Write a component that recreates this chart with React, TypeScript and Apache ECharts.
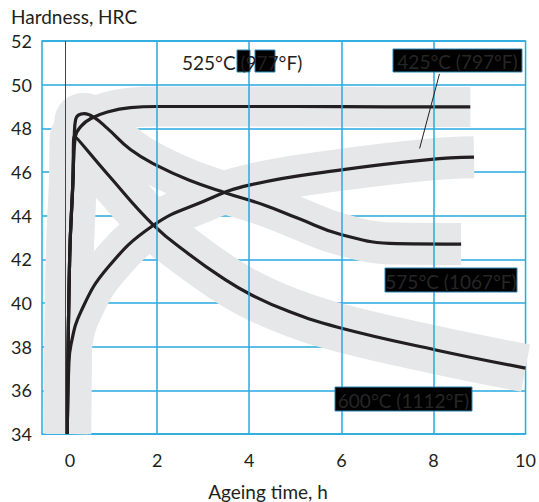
import React, { useEffect, useRef } from "react";
import * as echarts from "echarts";

// ---- data ----
const curve525: number[][] = [
  [0.05, 34], [0.1, 42], [0.17, 45.5], [0.22, 47.6], [0.35, 48.1], [0.56, 48.45],
  [0.92, 48.75], [1.42, 48.95], [2, 49.0], [3, 49.0], [5, 49.0], [7, 48.98], [8.8, 48.98],
];
const curve575: number[][] = [
  [0.05, 34], [0.1, 42], [0.17, 45.5], [0.2, 47.6], [0.23, 48.4], [0.42, 48.67],
  [0.63, 48.5], [0.92, 48.0], [1.42, 47.03], [1.99, 46.3], [2.7, 45.62], [3.49, 45.04],
  [4.35, 44.47], [5.06, 43.88], [5.99, 43.14], [7.2, 42.72], [8.6, 42.7],
];
const curve600: number[][] = [
  [0.05, 34], [0.1, 42], [0.17, 45.5], [0.2, 47.66], [0.92, 45.91], [1.92, 43.57],
  [2.7, 42.22], [3.42, 41.15], [4.03, 40.39], [4.84, 39.63], [5.92, 38.89],
  [8.05, 37.85], [10, 37.02],
];
const curve425: number[][] = [
  [0.05, 34], [0.08, 37], [0.13, 38.1], [0.35, 39.63], [0.92, 41.6], [1.92, 43.56],
  [3.0, 44.65], [4.0, 45.4], [6.0, 46.1], [7.9, 46.57], [8.88, 46.68],
];
const leader425: number[][] = [[8.13, 50.49], [7.7, 47.08]];
const xGridLines = [2, 4, 6, 8];
const xTickValues = [0, 2, 4, 6, 8, 10];
const labels = {
  c425: "425°C (797°F)",
  c575: "575°C (1067°F)",
  c600: "600°C (1112°F)",
  c525: "525°C (977°F)",
};
const yTitle = "Hardness, HRC";
const xTitle = "Ageing time, h";

const BLUE = "#27aae1";
const INK = "#231f20";
const BAND = "#e6e7e8";
const FONT = "Lato, 'Open Sans', sans-serif";
const SMOOTH = 0.45;

export default function App() {
  const ref = useRef<HTMLDivElement>(null);
  useEffect(() => {
    if (!ref.current) return;
    const chart = echarts.init(ref.current, undefined, { renderer: "svg" });
    const band = (data: number[][], width: number) => ({
      type: "line",
      data,
      smooth: SMOOTH,
      symbol: "none",
      silent: true,
      z: 2,
      lineStyle: { color: BAND, width, cap: "butt", join: "round" },
    });
    const curve = (data: number[][]) => ({
      type: "line",
      data,
      smooth: SMOOTH,
      symbol: "none",
      silent: true,
      z: 4,
      lineStyle: { color: INK, width: 3.2, cap: "butt", join: "round" },
    });
    const boxText = (text: string, x: number, y: number, w: number, h: number) => [
      {
        type: "rect",
        z: 20,
        shape: { x, y, width: w, height: h },
        style: { fill: "#000", stroke: "#2a86b8", lineWidth: 1 },
      },
      {
        type: "text",
        z: 21,
        x: x + w / 2,
        y: y + h / 2 + 1,
        style: { text, fill: "#262626", font: `19px ${FONT}`, align: "center", verticalAlign: "middle" },
      },
    ];
    chart.setOption({
      animation: false,
      grid: { left: 42, right: 8, top: 41, bottom: 68, show: true, borderColor: BLUE, borderWidth: 1.5, backgroundColor: "transparent" },
      xAxis: {
        type: "value",
        min: -0.5,
        max: 10,
        interval: 0.5,
        axisLine: { show: false },
        axisTick: { show: false },
        splitLine: { show: false },
        axisLabel: {
          margin: 17,
          color: INK,
          fontSize: 18,
          fontFamily: FONT,
          formatter: (v: number) => (v === 0 ? "{z|0}" : xTickValues.indexOf(v) >= 0 ? String(v) : ""),
          rich: { z: { padding: [0, 0, 0, 10], color: INK, fontSize: 18, fontFamily: FONT } },
        },
      },
      yAxis: {
        type: "value",
        min: 34,
        max: 52,
        interval: 2,
        axisLine: { show: false },
        axisTick: { show: false },
        splitLine: { show: true, lineStyle: { color: BLUE, width: 1.5 } },
        axisLabel: { margin: 10, color: INK, fontSize: 18, fontFamily: FONT },
      },
      series: [
        {
          type: "line",
          data: [],
          z: 1,
          markLine: {
            silent: true,
            symbol: ["none", "none"],
            label: { show: false },
            lineStyle: { color: BLUE, width: 1.5, type: "solid" },
            data: xGridLines.map((v) => ({ xAxis: v })),
          },
        },
        {
          type: "line",
          data: [],
          z: 1,
          markLine: {
            silent: true,
            symbol: ["none", "none"],
            label: { show: false },
            lineStyle: { color: "#444", width: 1, type: "solid" },
            data: [{ xAxis: 0 }],
          },
        },
        band(curve525, 40),
        band(curve425, 42),
        band(curve575, 42),
        band(curve600, 48),
        curve(curve525),
        curve(curve425),
        curve(curve575),
        curve(curve600),
        {
          type: "line",
          data: leader425,
          symbol: "none",
          silent: true,
          z: 5,
          lineStyle: { color: INK, width: 1 },
        },
      ],
      graphic: [
        {
          type: "text",
          left: 11,
          top: 7,
          style: { text: yTitle, fill: INK, font: `19px ${FONT}` },
        },
        {
          type: "text",
          x: 268,
          y: 491,
          style: { text: xTitle, fill: INK, font: `19px ${FONT}`, align: "center", verticalAlign: "middle" },
        },
        ...boxText(labels.c425, 393, 49, 129, 23),
        ...boxText(labels.c575, 385, 268, 132, 24),
        ...boxText(labels.c600, 335, 387, 137, 24),
        { type: "rect", z: 20, shape: { x: 237, y: 50, width: 13, height: 22 }, style: { fill: "#000", stroke: "#2a86b8", lineWidth: 1 } },
        { type: "rect", z: 20, shape: { x: 255, y: 50, width: 20, height: 22 }, style: { fill: "#000", stroke: "#2a86b8", lineWidth: 1 } },
        {
          type: "text",
          z: 21,
          x: 182,
          y: 62,
          style: { text: labels.c525, fill: INK, font: `19px ${FONT}`, align: "left", verticalAlign: "middle" },
        },
      ],
    });
    return () => chart.dispose();
  }, []);
  return <div ref={ref} style={{ width: 539, height: 502, position: "absolute", left: 0, top: 0 }} />;
}
